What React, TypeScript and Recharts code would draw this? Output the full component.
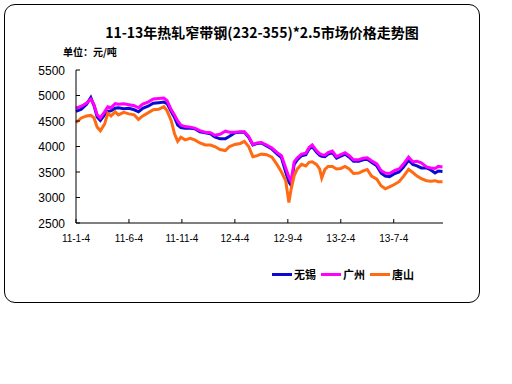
import React from "react";
import { LineChart, Line, XAxis, YAxis, Legend } from "recharts";

const months = [0,0.5,1.0,1.4,1.7,2.0,2.3,2.7,3.0,3.3,3.7,4.0,4.5,5.0,5.5,5.9,6.3,6.8,7.3,7.8,8.3,8.6,9.0,9.3,9.6,9.9,10.3,10.8,11.2,11.7,12.2,12.7,13.1,13.6,14.1,14.5,15.0,15.5,15.9,16.3,16.7,17.1,17.5,18.0,18.5,19.0,19.4,19.8,20.1,20.3,20.6,20.9,21.3,21.7,22.0,22.3,22.7,23.0,23.2,23.5,23.8,24.2,24.6,25.0,25.4,25.8,26.2,26.7,27.1,27.5,27.9,28.4,28.8,29.2,29.6,30.1,30.5,30.9,31.4,31.8,32.2,32.6,33.1,33.5,33.9,34.2,34.6];

const guangzhou = [4750,4790,4850,4930,4820,4620,4560,4680,4780,4760,4840,4830,4840,4820,4800,4760,4830,4870,4930,4940,4950,4900,4720,4620,4500,4420,4390,4380,4360,4310,4280,4270,4220,4240,4300,4280,4280,4290,4290,4200,4040,4070,4080,4030,3970,3880,3820,3580,3400,3320,3700,3780,3850,3870,3980,4030,3920,3860,3840,3830,3880,3910,3800,3840,3880,3820,3740,3740,3770,3780,3720,3660,3530,3480,3470,3530,3560,3650,3790,3700,3710,3680,3600,3580,3570,3610,3600];

const wuxi = [4690,4730,4830,4960,4800,4580,4510,4620,4690,4700,4750,4760,4740,4750,4720,4680,4750,4790,4850,4860,4870,4840,4680,4570,4420,4370,4360,4360,4350,4290,4270,4250,4190,4150,4150,4200,4270,4280,4280,4180,4030,4060,4070,4010,3950,3850,3780,3500,3300,3240,3650,3740,3820,3840,3950,4000,3890,3830,3810,3800,3850,3880,3770,3810,3850,3790,3710,3710,3740,3750,3690,3620,3480,3420,3410,3470,3500,3590,3730,3650,3620,3580,3580,3540,3480,3520,3510];

const tangshan = [4470,4560,4600,4610,4560,4380,4310,4440,4650,4600,4680,4620,4670,4640,4620,4530,4600,4660,4720,4730,4780,4700,4500,4250,4100,4180,4130,4160,4130,4070,4030,4030,4000,3940,3920,4000,4040,4060,4100,4000,3800,3820,3850,3840,3790,3640,3500,3330,2900,3150,3430,3560,3650,3620,3690,3700,3650,3560,3380,3550,3610,3610,3560,3570,3610,3560,3470,3480,3520,3550,3420,3360,3230,3170,3210,3260,3310,3410,3550,3490,3420,3370,3330,3320,3330,3310,3310];

const xTicks = [0, 5, 10, 15, 20, 25, 30];
const xTickLabels = ["11-1-4", "11-6-4", "11-11-4", "12-4-4", "12-9-4", "13-2-4", "13-7-4"];
const yTicks = [2500, 3000, 3500, 4000, 4500, 5000, 5500];

const seriesNames = ["无锡", "广州", "唐山"];
const seriesColors = ["#0A0AD2", "#FF00FF", "#FF6A13"];

const data = months.map((m, i) => ({
  m,
  wuxi: wuxi[i],
  guangzhou: guangzhou[i],
  tangshan: tangshan[i],
}));

const YTick = (props: any) => {
  const { x, y, payload } = props;
  return (
    <g>
      <line x1={x} x2={x + 4} y1={y} y2={y} stroke="#000" strokeWidth={1} />
      <text x={x - 11} y={y} dy={4.5} textAnchor="end" fontSize={12} fontFamily="'Liberation Sans', Arial, sans-serif" fill="#000">
        {payload.value}
      </text>
    </g>
  );
};

const XTick = (props: any) => {
  const { x, y, payload } = props;
  const idx = xTicks.indexOf(payload.value);
  return (
    <g>
      <line x1={x} x2={x} y1={y} y2={y - 4} stroke="#000" strokeWidth={1} />
      <text x={x} y={y} dy={19} textAnchor="middle" fontSize={10} fontFamily="'Liberation Sans', Arial, sans-serif" fill="#000">
        {idx >= 0 ? xTickLabels[idx] : ""}
      </text>
    </g>
  );
};

const LegendContent = () => (
  <div style={{ display: "flex", alignItems: "center", fontFamily: "'Noto Sans CJK SC', sans-serif", fontWeight: 700, fontSize: 11, color: "#000" }}>
    {seriesNames.map((n, i) => (
      <div key={n} style={{ display: "flex", alignItems: "center", marginRight: i === 0 ? 5 : 5 }}>
        <div style={{ width: 20, height: 3, background: seriesColors[i], marginRight: 2 }} />
        <span style={{ lineHeight: "12px" }}>{n}</span>
      </div>
    ))}
  </div>
);

export default function App() {
  return (
    <div style={{ position: "absolute", left: 0, top: 0, width: 512, height: 384, background: "#fff" }}>
      <div
        style={{
          position: "absolute",
          left: 4,
          top: 4,
          width: 476,
          height: 299,
          boxSizing: "border-box",
          border: "1px solid #000",
          borderRadius: 11,
        }}
      />
      <div
        style={{
          position: "absolute",
          left: 0,
          top: 24,
          width: 524,
          textAlign: "center",
          fontFamily: "'Noto Sans CJK SC', sans-serif",
          fontWeight: 700,
          fontSize: 14,
          lineHeight: "16px",
          color: "#000",
        }}
      >
        11-13年热轧窄带钢(232-355)*2.5市场价格走势图
      </div>
      <div
        style={{
          position: "absolute",
          left: 63,
          top: 45,
          fontFamily: "'Noto Sans CJK SC', sans-serif",
          fontWeight: 700,
          fontSize: 10,
          lineHeight: "14px",
          color: "#000",
        }}
      >
        单位：元/吨
      </div>
      <div style={{ position: "absolute", left: 0, top: 0 }}>
        <LineChart width={512} height={384} data={data} margin={{ top: 70, right: 69, bottom: 117, left: 16 }}>
          <XAxis
            dataKey="m"
            type="number"
            domain={[0, 34.65]}
            ticks={xTicks}
            tick={<XTick />}
            tickLine={false}
            tickSize={0}
            tickMargin={0}
            height={30}
            axisLine={{ stroke: "#000", strokeWidth: 1 }}
            interval={0}
          />
          <YAxis
            type="number"
            domain={[2500, 5500]}
            ticks={yTicks}
            tick={<YTick />}
            tickLine={false}
            tickSize={0}
            tickMargin={0}
            width={60}
            axisLine={{ stroke: "#000", strokeWidth: 1 }}
            interval={0}
          />
          <Legend
            content={<LegendContent />}
            wrapperStyle={{ position: "absolute", left: 272, top: 268, width: 160, height: 14 }}
          />
          <Line dataKey="wuxi" name="无锡" stroke={seriesColors[0]} strokeWidth={3} dot={false} isAnimationActive={false} />
          <Line dataKey="guangzhou" name="广州" stroke={seriesColors[1]} strokeWidth={3} dot={false} isAnimationActive={false} />
          <Line dataKey="tangshan" name="唐山" stroke={seriesColors[2]} strokeWidth={3} dot={false} isAnimationActive={false} />
        </LineChart>
      </div>
    </div>
  );
}
